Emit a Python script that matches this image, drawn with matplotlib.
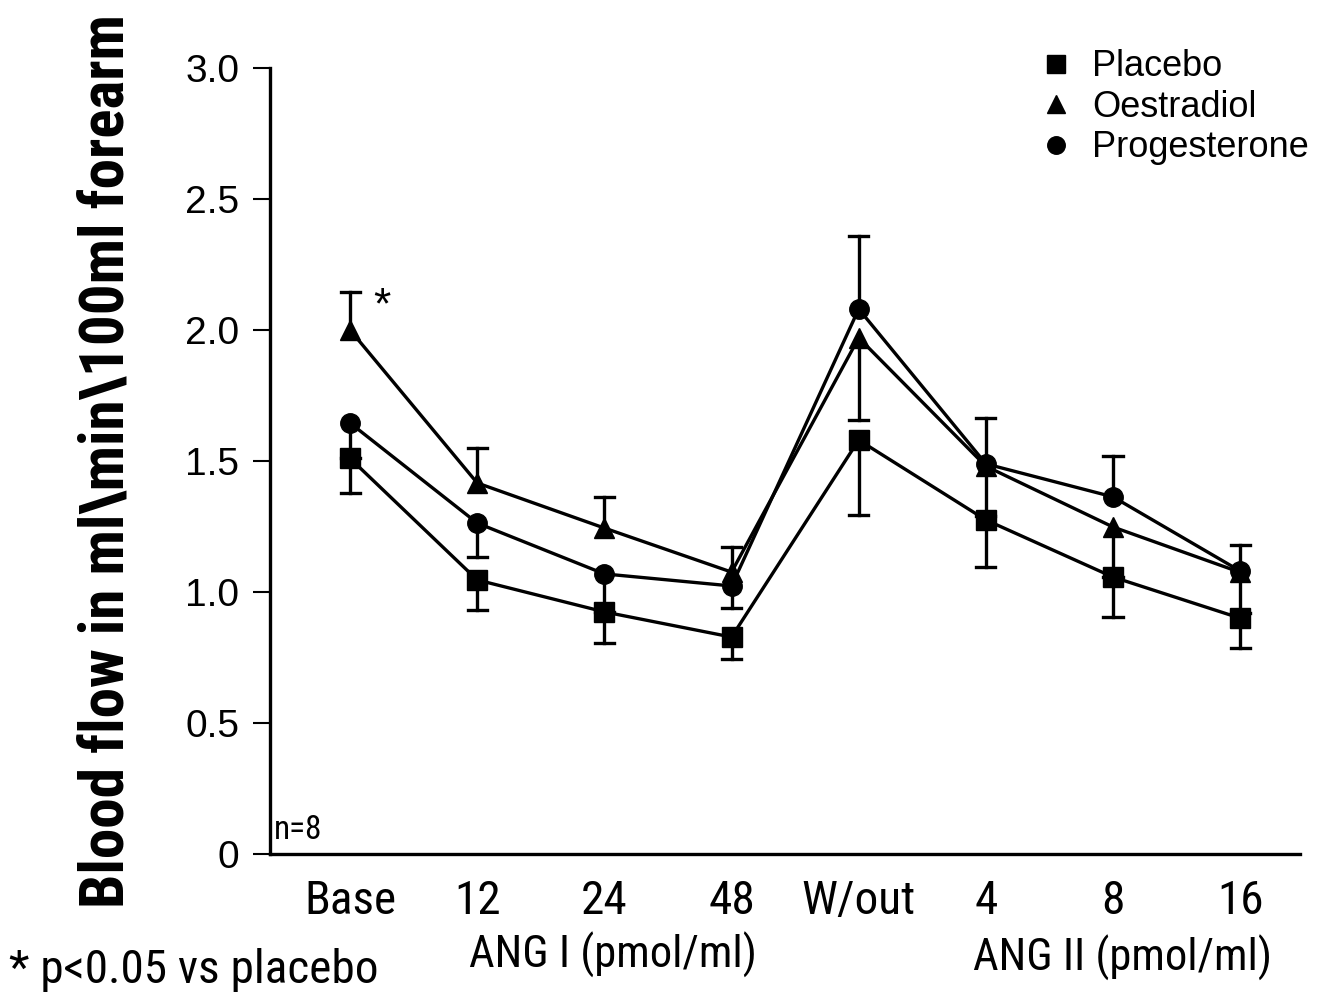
import numpy as np
import matplotlib
matplotlib.use('Agg')
import matplotlib.pyplot as plt
from matplotlib import font_manager

# --- data ---
categories = ['Base', '12', '24', '48', 'W/out', '4', '8', '16']

placebo = [1.51, 1.046, 0.924, 0.828, 1.58, 1.275, 1.057, 0.90]
oestradiol = [2.00, 1.416, 1.244, 1.076, 1.97, 1.48, 1.248, 1.075]
progesterone = [1.645, 1.263, 1.069, 1.023, 2.08, 1.489, 1.363, 1.08]

# error bars (SEM), drawn one side only as in the original
placebo_lo = [0.132, 0.115, 0.119, 0.084, 0.286, 0.18, 0.152, 0.114]
placebo_hi = [0, 0, 0, 0, 0, 0, 0, 0]
oestradiol_lo = [0, 0, 0, 0, 0.314, 0, 0.19, 0]
oestradiol_hi = [0.145, 0.134, 0.119, 0.094, 0, 0.183, 0, 0.103]
progesterone_lo = [0.135, 0.129, 0.145, 0.083, 0, 0.2, 0, 0.16]
progesterone_hi = [0, 0, 0, 0, 0.279, 0, 0.156, 0]

yticks = [0, 0.5, 1.0, 1.5, 2.0, 2.5, 3.0]
ytick_labels = ['0', '0.5', '1.0', '1.5', '2.0', '2.5', '3.0']

# --- fonts ---
names = {f.name for f in font_manager.fontManager.ttflist}


def pick(cands, default='DejaVu Sans'):
    for c in cands:
        if c in names:
            return c
    return default


narrow = pick(['Roboto Condensed', 'Liberation Sans Narrow', 'Archivo Narrow', 'PT Sans Narrow',
               'Encode Sans Condensed', 'Pragati Narrow'])
plain = pick(['Liberation Sans', 'Arimo'])

fig = plt.figure(figsize=(13.41, 9.92), dpi=100, facecolor='white')
ax = fig.add_axes([0.2013, 0.1391, 0.7681, 0.7924])

x = np.arange(len(categories))
lw = 2.4
cap = 0.075


def draw_err(vals, lo, hi):
    for xi, v, l, h in zip(x, vals, lo, hi):
        if h > 0:
            ax.plot([xi, xi], [v, v + h], color='black', lw=lw, zorder=2)
            ax.plot([xi - cap, xi + cap], [v + h, v + h], color='black', lw=lw, zorder=2)
        if l > 0:
            ax.plot([xi, xi], [v, v - l], color='black', lw=lw, zorder=2)
            ax.plot([xi - cap, xi + cap], [v - l, v - l], color='black', lw=lw, zorder=2)


draw_err(placebo, placebo_lo, placebo_hi)
draw_err(oestradiol, oestradiol_lo, oestradiol_hi)
draw_err(progesterone, progesterone_lo, progesterone_hi)

ax.plot(x, placebo, color='black', lw=lw, marker='s', ms=14, zorder=3, label='Placebo')
ax.plot(x, oestradiol, color='black', lw=lw, marker='^', ms=15, zorder=3, label='Oestradiol')
ax.plot(x, progesterone, color='black', lw=lw, marker='o', ms=14, zorder=3, label='Progesterone')

ax.set_xlim(-0.63, 7.47)
ax.set_ylim(0, 3.0)

for s in ['top', 'right']:
    ax.spines[s].set_visible(False)
for s in ['left', 'bottom']:
    ax.spines[s].set_linewidth(2.4)

ax.set_yticks(yticks)
ax.set_yticklabels(ytick_labels, fontsize=28, family=plain)
ax.tick_params(axis='y', length=12, width=1.5, pad=10)
ax.set_xticks(x)
ax.set_xticklabels(categories, fontsize=34, family=narrow)
ax.tick_params(axis='x', length=0, pad=18)

ax.set_ylabel('Blood flow in ml\\min\\100ml forearm', fontsize=44, family=narrow,
              fontweight='bold', labelpad=36)

ax.text(0.25, 2.09, '*', fontsize=32, family=plain, ha='center', va='center')
ax.text(-0.6, 0.09, 'n=8', fontsize=24, family=narrow, ha='left', va='center')

leg = ax.legend(loc='upper right', bbox_to_anchor=(1.04, 1.065), frameon=False,
                prop={'family': plain, 'size': 26}, handlelength=0.8, handletextpad=0.6,
                labelspacing=0.15, markerscale=0.9)
for h in leg.legend_handles:
    h.set_linestyle('none')

fig.text(0.457, 0.037, 'ANG I (pmol/ml)', fontsize=32, family=narrow, ha='center', va='center')
fig.text(0.8367, 0.034, 'ANG II (pmol/ml)', fontsize=32, family=narrow, ha='center', va='center')
fig.text(0.007, 0.022, '* p<0.05 vs placebo', fontsize=34, family=narrow, ha='left', va='center')

fig.savefig('out.png', dpi=100, facecolor='white')
